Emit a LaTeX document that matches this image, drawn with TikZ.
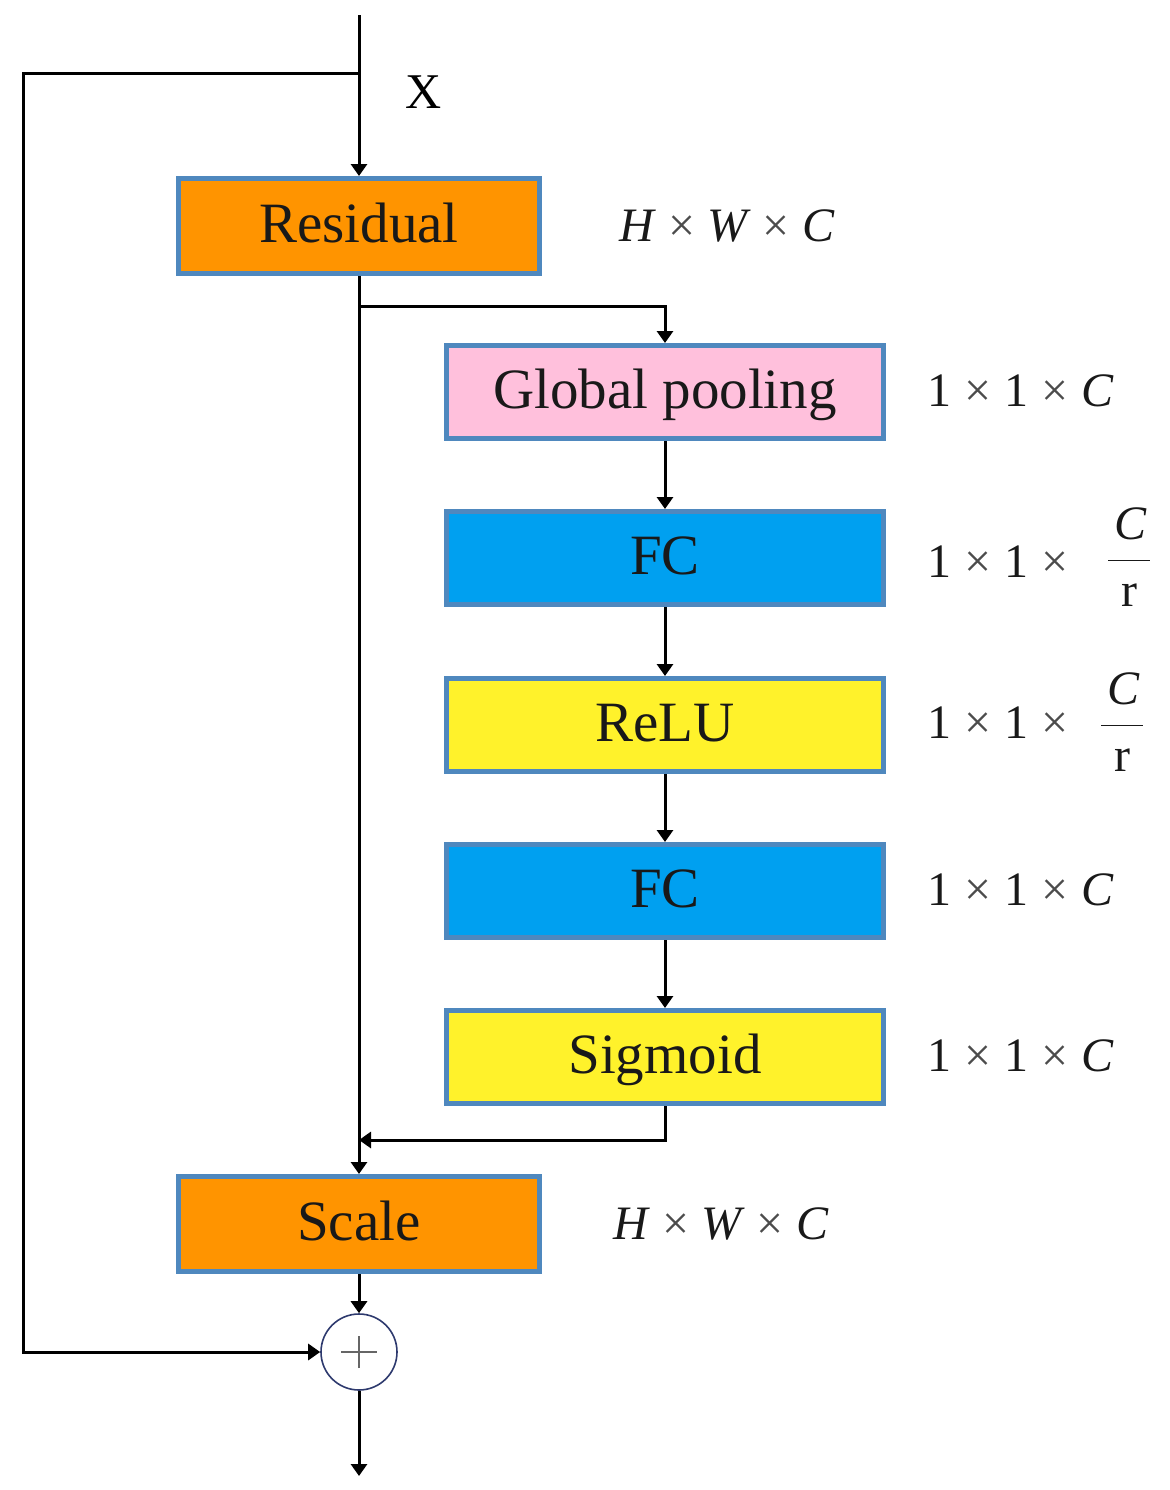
\documentclass[tikz,border=0pt]{standalone}
\usepackage{fontspec}
\setmainfont{Liberation Serif}
\usetikzlibrary{arrows.meta}
\definecolor{bordc}{HTML}{4F88BE}
\definecolor{orangeF}{HTML}{FF9400}
\definecolor{pinkF}{HTML}{FFC0DC}
\definecolor{blueF}{HTML}{00A0F0}
\definecolor{yellowF}{HTML}{FFF22B}
\definecolor{circc}{HTML}{2E3A6E}
\begin{document}
\begin{tikzpicture}[x=0.5pt,y=-0.5pt,
  blk/.style={draw=bordc, line width=2.5pt, inner sep=0pt, text=black!90,
    font=\fontsize{28.5}{30}\selectfont, text height=18.5pt, text depth=2pt},
  wide/.style={blk, minimum width=218.5pt, minimum height=46.5pt},
  narrow/.style={blk, minimum width=180.5pt, minimum height=47.5pt},
  conn/.style={line width=1.5pt, black},
  arr/.style={conn, -{Triangle[length=6pt,width=8pt]}},
  dim/.style={font=\fontsize{24}{28}\selectfont, inner sep=0pt, text=black!90}]
\useasboundingbox (0,0) rectangle (1170,1490);

% boxes
\node[narrow, fill=orangeF] (res) at (359,226) {Residual};
\node[wide, fill=pinkF] (gp) at (665,392) {Global pooling};
\node[wide, fill=blueF] (fc1) at (665,558) {FC};
\node[wide, fill=yellowF] (relu) at (665,725) {ReLU};
\node[wide, fill=blueF] (fc2) at (665,891) {FC};
\node[wide, fill=yellowF] (sig) at (665,1057) {Sigmoid};
\node[narrow, fill=orangeF] (scale) at (359,1224) {Scale};
\node[circle, draw=circc, line width=0.8pt, minimum size=38pt, inner sep=0pt, fill=white,
  path picture={\draw[black!60, line width=0.9pt]
    ([xshift=-9pt]path picture bounding box.center) -- ([xshift=9pt]path picture bounding box.center)
    ([yshift=-8pt]path picture bounding box.center) -- ([yshift=8pt]path picture bounding box.center);}]
  (plus) at (359,1352) {};

% coordinates
\coordinate (top) at (359,15);
\coordinate (split) at (359,73);
\coordinate (lc) at (23,73);
\coordinate (br) at (359,306);
\coordinate (mg) at (359,1140);
\coordinate (out) at (359,1476);

% connectors
\draw[arr] (top) -- (res.north);
\draw[arr] (split) -- (lc) |- (plus.west);
\draw[arr] (res.south) -- (scale.north);
\draw[arr] (br) -| (gp.north);
\draw[arr] (gp) -- (fc1);
\draw[arr] (fc1) -- (relu);
\draw[arr] (relu) -- (fc2);
\draw[arr] (fc2) -- (sig);
\draw[arr] (sig.south) |- (mg);
\draw[arr] (scale.south) -- (plus.north);
\draw[arr] (plus.south) -- (out);

% labels
\node[font=\fontsize{25}{28}\selectfont, inner sep=0pt] (xl) at (424,92) {X};
\node[dim] (d1) at (727,226) {\textit{H}\kern6pt{\color{black!70}×}\kern6pt\textit{W}\kern6pt{\color{black!70}×}\kern6pt\textit{C}};
\node[dim] (d7) at (721,1224) {\textit{H}\kern6pt{\color{black!70}×}\kern6pt\textit{W}\kern6pt{\color{black!70}×}\kern6pt\textit{C}};
\node[dim] (d2) at (1021,391) {1\kern6.5pt{\color{black!70}×}\kern6.5pt1\kern6.5pt{\color{black!70}×}\kern6.5pt\textit{C}};
\node[dim] (d5) at (1021,890) {1\kern6.5pt{\color{black!70}×}\kern6.5pt1\kern6.5pt{\color{black!70}×}\kern6.5pt\textit{C}};
\node[dim] (d6) at (1021,1056) {1\kern6.5pt{\color{black!70}×}\kern6.5pt1\kern6.5pt{\color{black!70}×}\kern6.5pt\textit{C}};
\node[dim, anchor=base west] (d3) at (927,577) {1\kern6.5pt{\color{black!70}×}\kern6.5pt1\kern6.5pt{\color{black!70}×}};
\node[dim] (f3) at (1129,557) {$\displaystyle\frac{\mbox{\kern3pt\itshape C\kern2pt}}{\mbox{r}}$};
\node[dim, anchor=base west] (d4) at (927,738) {1\kern6.5pt{\color{black!70}×}\kern6.5pt1\kern6.5pt{\color{black!70}×}};
\node[dim] (f4) at (1122,722) {$\displaystyle\frac{\mbox{\kern3pt\itshape C\kern2pt}}{\mbox{r}}$};
\end{tikzpicture}
\end{document}
